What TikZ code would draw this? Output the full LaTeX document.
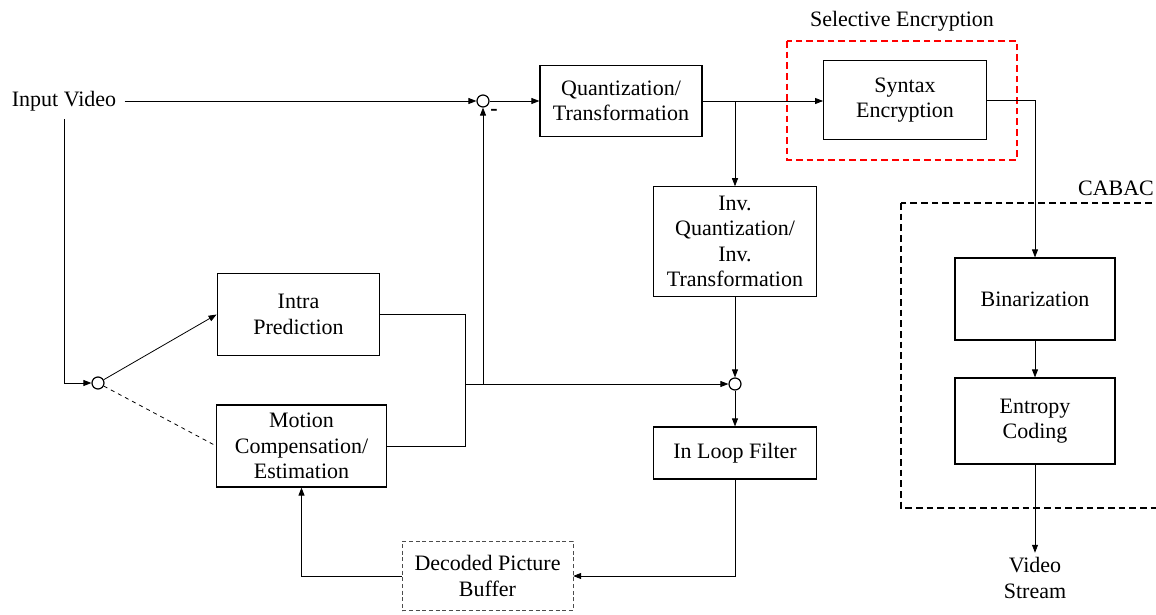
\documentclass[tikz,border=0pt]{standalone}
\usepackage{fontspec}
\setmainfont{Liberation Serif}
\usetikzlibrary{arrows.meta}

\begin{document}
\begin{tikzpicture}[x=0.75pt, y=-0.75pt,
    font=\fontsize{16.5pt}{19pt}\selectfont,
    line width=0.6pt,
    >={Triangle[length=6pt, width=4.5pt]},
    block/.style={draw, line width=0.9pt, align=center, inner sep=2pt},
    junc/.style={draw, line width=0.9pt, circle, minimum size=9pt, inner sep=0pt},
    groupbox/.style={line width=1.5pt, dash pattern=on 5pt off 3pt}]
        \clip (0,0) rectangle (1156,614);
        \useasboundingbox (0,0) rectangle (1156,614);

        % blocks
        \node [block, minimum width=121.5pt, minimum height=53pt] (quant) at (621,101) {Quantization/\\Transformation};
        \node [block, minimum width=122pt, minimum height=59pt] (syntax) at (905,100) {Syntax\\Encryption};
        \node [block, minimum width=122pt, minimum height=82pt] (inv) at (735,241.5) {Inv.\\Quantization/\\Inv.\\Transformation};
        \node [block, minimum width=122pt, minimum height=62pt] (intra) at (298.5,314.5) {Intra\\Prediction};
        \node [block, minimum width=127pt, minimum height=61.5pt] (motion) at (301.5,446) {Motion\\Compensation/\\Estimation};
        \node [block, minimum width=122pt, minimum height=39pt] (loop) at (735,453) {In Loop Filter};
        \node [block, line width=0.5pt, densely dashed, draw=black!70, minimum width=128pt, minimum height=52pt] (dpb) at (487.5,576) {Decoded Picture\\Buffer};
        \node [block, minimum width=120pt, minimum height=61.5pt] (bin) at (1035,299) {Binarization};
        \node [block, minimum width=120pt, minimum height=64.5pt] (ent) at (1035,421) {Entropy\\Coding};

        % junctions
        \node [junc] (c1) at (483,101) {};
        \node [junc] (c2) at (98,383) {};
        \node [junc] (c3) at (735,384) {};
        \node [font=\bfseries\fontsize{16.5pt}{19pt}\selectfont, inner sep=0pt] (minus) at (494,112) {-};

        % labels
        \node [inner sep=6pt] (input) at (64,101) {Input Video};
        \node [align=center] (stream) at (1035,578) {Video\\Stream};
        \node (cabac) at (1116,188) {CABAC};
        \node (selenc) at (902,21) {Selective Encryption};

        % groups
        \draw [groupbox, red] (787,41) rectangle (1017,160);
        \draw [groupbox] (901,203) rectangle (1180,508);

        \coordinate (br) at (735,101);
        \coordinate (mg) at (465,384);
        \coordinate (jn) at (483,384);

        % connectors
        \draw [->] (input.east) -- (c1.west);
        \draw [->] (input.south) |- (c2.west);
        \draw [->] (c2) -- (intra.west);
        \draw [dashed] (c2) -- (motion.west);
        \draw [->] (c1.east) -- (quant.west);
        \draw [->] (quant.east) -- (quant.east -| syntax.west);
        \draw [->] (br) -- (inv.north);
        \draw [->] (syntax.east) -| (bin.north);
        \draw [->] (bin.south) -- (ent.north);
        \draw [->] (ent.south) -- (stream.north);
        \draw (intra.east) -| (mg);
        \draw (motion.east) -| (mg);
        \draw [->] (mg) -- (c3.west);
        \draw [->] (jn) -- (c1.south);
        \draw [->] (inv.south) -- (c3.north);
        \draw [->] (c3.south) -- (loop.north);
        \draw [->] (loop.south) |- (dpb.east);
        \draw [->] (dpb.west) -| (motion.south);
    \end{tikzpicture}
\end{document}
